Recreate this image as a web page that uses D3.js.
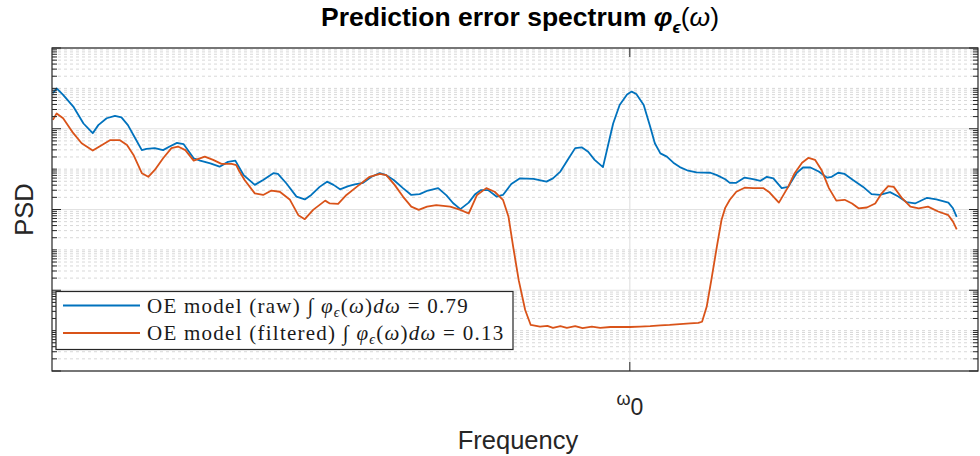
<!DOCTYPE html>
<html>
<head>
<meta charset="utf-8">
<script src="https://cdn.jsdelivr.net/npm/d3@7"></script>
<style>
  html, body { margin: 0; padding: 0; background: #fff; }
  svg { display: block; }
</style>
</head>
<body>
<svg id="chart" width="980" height="456"></svg>
<script>
// Normalised frequency (0..1) and PSD in dB for each prediction error spectrum
const rawFreq = [0.001,0.005,0.012,0.023,0.034,0.044,0.050,0.059,0.068,0.075,0.082,0.090,0.097,0.102,0.111,0.120,0.127,0.135,0.142,0.153,0.160,0.171,0.181,0.190,0.198,0.207,0.219,0.228,0.239,0.244,0.253,0.264,0.273,0.280,0.289,0.297,0.304,0.311,0.320,0.327,0.336,0.345,0.354,0.361,0.369,0.379,0.388,0.397,0.406,0.417,0.426,0.433,0.441,0.450,0.457,0.463,0.471,0.480,0.487,0.496,0.505,0.520,0.534,0.541,0.549,0.558,0.565,0.572,0.579,0.586,0.595,0.601,0.606,0.613,0.621,0.626,0.631,0.639,0.646,0.651,0.657,0.664,0.671,0.678,0.687,0.696,0.711,0.718,0.727,0.732,0.739,0.748,0.757,0.765,0.772,0.779,0.788,0.795,0.804,0.811,0.819,0.828,0.837,0.842,0.849,0.856,0.865,0.876,0.885,0.894,0.905,0.914,0.923,0.932,0.945,0.955,0.968,0.973,0.977];
const rawDb = [-11.2,-10.0,-11.6,-14.5,-18.7,-21.1,-19.1,-17.4,-16.8,-17.2,-19.1,-22.4,-25.3,-25.0,-24.8,-25.3,-24.4,-23.5,-23.8,-27.3,-27.9,-28.6,-29.4,-28.2,-27.9,-31.5,-33.9,-32.7,-31.0,-31.2,-33.5,-36.8,-37.5,-36.4,-34.4,-33.1,-33.9,-35.0,-34.2,-33.8,-33.4,-31.9,-31.0,-31.5,-32.7,-34.7,-36.4,-36.2,-35.3,-34.7,-36.5,-38.4,-39.9,-38.3,-36.2,-35.2,-35.2,-36.8,-36.4,-33.7,-32.3,-32.4,-33.1,-32.3,-30.6,-27.3,-24.8,-24.6,-25.7,-27.7,-29.5,-23.6,-18.7,-14.1,-11.5,-10.8,-11.4,-14.1,-19.5,-23.6,-26.1,-26.9,-28.4,-29.5,-30.4,-30.8,-30.9,-31.5,-32.5,-33.4,-33.4,-32.1,-32.5,-32.9,-31.9,-32.3,-34.7,-34.4,-31.0,-29.6,-29.6,-30.6,-32.1,-31.9,-30.9,-31.2,-32.7,-34.4,-36.2,-36.4,-35.7,-36.8,-38.2,-38.5,-37.1,-37.5,-38.3,-39.7,-41.8];

const filtFreq = [0.001,0.005,0.012,0.023,0.032,0.044,0.054,0.063,0.073,0.081,0.088,0.097,0.104,0.111,0.120,0.129,0.136,0.144,0.153,0.165,0.174,0.183,0.194,0.199,0.202,0.208,0.219,0.228,0.237,0.246,0.257,0.266,0.273,0.282,0.295,0.300,0.309,0.318,0.329,0.343,0.354,0.361,0.370,0.379,0.388,0.396,0.405,0.415,0.430,0.441,0.450,0.459,0.469,0.478,0.487,0.493,0.498,0.504,0.511,0.517,0.527,0.535,0.541,0.549,0.556,0.565,0.573,0.583,0.592,0.603,0.613,0.624,0.635,0.646,0.657,0.667,0.678,0.689,0.698,0.702,0.707,0.712,0.718,0.723,0.727,0.732,0.739,0.748,0.757,0.768,0.775,0.785,0.795,0.802,0.810,0.817,0.824,0.831,0.839,0.847,0.856,0.864,0.871,0.880,0.889,0.896,0.903,0.909,0.918,0.927,0.936,0.946,0.957,0.968,0.973,0.977];
const filtDb = [-17.8,-16.2,-17.4,-21.1,-23.6,-25.4,-24.0,-22.8,-22.8,-24.0,-26.5,-31.0,-31.9,-30.2,-27.3,-24.8,-24.4,-25.3,-27.9,-26.9,-27.7,-28.7,-28.7,-29.0,-30.4,-32.7,-36.0,-36.4,-35.3,-35.6,-37.6,-41.4,-42.4,-40.1,-37.8,-38.5,-38.6,-36.4,-34.4,-31.9,-31.2,-31.5,-33.9,-36.8,-39.3,-40.1,-39.3,-38.9,-39.3,-40.1,-41.0,-36.4,-34.7,-35.6,-37.6,-41.8,-49.2,-57.5,-64.9,-68.6,-69.0,-68.8,-69.3,-68.9,-69.3,-68.9,-69.4,-69.0,-69.3,-69.1,-69.1,-69.1,-69.0,-68.9,-68.7,-68.6,-68.4,-68.2,-68.1,-67.8,-64.1,-57.5,-49.2,-42.6,-39.6,-37.6,-35.6,-34.6,-34.7,-34.7,-35.8,-38.3,-34.4,-31.0,-28.4,-27.2,-27.7,-30.2,-34.7,-37.8,-37.6,-38.5,-39.7,-39.5,-38.5,-36.0,-34.2,-34.4,-37.2,-39.3,-39.7,-39.3,-40.5,-41.4,-43.0,-44.9];

const xTickValues = [0.624];
const xTickLabels = ["ω0"];
const yDomain = [1e-8, 1];
const seriesNames = ["OE model (raw)", "OE model (filtered)"];
const seriesIntegrals = ["0.79", "0.13"];
const seriesColors = ["#0072BD", "#D95319"];

const dbToPsd = d => Math.pow(10, d / 10);
const series = [
  rawFreq.map((f, i) => ({ f, p: dbToPsd(rawDb[i]) })),
  filtFreq.map((f, i) => ({ f, p: dbToPsd(filtDb[i]) }))
];

const svg = d3.select("#chart");
const L = 52, R = 978, T = 48, B = 371;
const axisColor = "#262626";
const sans = "'Liberation Sans', Arial, Helvetica, sans-serif";
const serif = "'Liberation Serif', 'Times New Roman', 'DejaVu Serif', serif";

const x = d3.scaleLinear().domain([0, 1]).range([L, R]);
const y = d3.scaleLog().domain(yDomain).range([B, T]);

// Decade ticks: labelled every second decade, all others minor
const majorY = [], minorY = [];
for (let k = -8; k <= 0; k++) {
  for (let m = 1; m <= 9; m++) {
    const v = m * Math.pow(10, k);
    if (v > 1.0000001) continue;
    if (m === 1 && k % 2 === 0) majorY.push(v); else minorY.push(v);
  }
}

const grid = svg.append("g");
grid.selectAll("line.minor").data(minorY).join("line")
  .attr("x1", L).attr("x2", R)
  .attr("y1", d => y(d)).attr("y2", d => y(d))
  .attr("stroke", "#d8d8d8").attr("stroke-width", 1)
  .attr("stroke-dasharray", "3,3");
grid.selectAll("line.major").data(majorY).join("line")
  .attr("x1", L).attr("x2", R)
  .attr("y1", d => y(d)).attr("y2", d => y(d))
  .attr("stroke", "#e2e2e2").attr("stroke-width", 1.2);
grid.selectAll("line.xg").data(xTickValues).join("line")
  .attr("x1", d => x(d)).attr("x2", d => x(d))
  .attr("y1", T).attr("y2", B)
  .attr("stroke", "#e2e2e2").attr("stroke-width", 1.2);

// Curves
svg.append("clipPath").attr("id", "plotClip")
  .append("rect").attr("x", L).attr("y", T).attr("width", R - L).attr("height", B - T);
const line = d3.line().x(d => x(d.f)).y(d => y(d.p));
svg.append("g").attr("clip-path", "url(#plotClip)")
  .selectAll("path").data(series).join("path")
  .attr("d", line)
  .attr("fill", "none")
  .attr("stroke", (d, i) => seriesColors[i])
  .attr("stroke-width", 1.8)
  .attr("stroke-linejoin", "round");

// Axes box and ticks
const axes = svg.append("g").attr("stroke", axisColor);
axes.append("rect").attr("x", L).attr("y", T).attr("width", R - L).attr("height", B - T)
  .attr("fill", "none").attr("stroke-width", 1.2);
const yTicks = majorY.map(v => ({ v, len: 9 })).concat(minorY.map(v => ({ v, len: 5 })));
axes.selectAll("line.yl").data(yTicks).join("line")
  .attr("x1", L).attr("x2", d => L + d.len)
  .attr("y1", d => y(d.v)).attr("y2", d => y(d.v)).attr("stroke-width", 1);
axes.selectAll("line.yr").data(yTicks).join("line")
  .attr("x1", R).attr("x2", d => R - d.len)
  .attr("y1", d => y(d.v)).attr("y2", d => y(d.v)).attr("stroke-width", 1);
axes.selectAll("line.xb").data(xTickValues).join("line")
  .attr("x1", d => x(d)).attr("x2", d => x(d))
  .attr("y1", B).attr("y2", B - 9).attr("stroke-width", 1);
axes.selectAll("line.xt").data(xTickValues).join("line")
  .attr("x1", d => x(d)).attr("x2", d => x(d))
  .attr("y1", T).attr("y2", T + 9).attr("stroke-width", 1);

// x tick label (ω with subscript 0)
xTickValues.forEach((v, i) => {
  const t = svg.append("text").attr("x", x(v)).attr("y", 405)
    .attr("text-anchor", "middle").attr("fill", axisColor)
    .attr("font-family", sans);
  const lbl = xTickLabels[i];
  t.append("tspan").attr("font-size", 18).text(lbl[0]);
  t.append("tspan").attr("font-size", 23).attr("dy", 10).text(lbl.slice(1));
});

// Axis labels
svg.append("text").attr("x", 518).attr("y", 449)
  .attr("text-anchor", "middle").attr("font-family", sans).attr("font-size", 25.5)
  .attr("fill", axisColor).text("Frequency");
svg.append("text").attr("transform", `translate(33,${(T + B) / 2}) rotate(-90)`)
  .attr("text-anchor", "middle").attr("font-family", sans).attr("font-size", 25.5)
  .attr("fill", axisColor).text("PSD");

// Title
const title = svg.append("text").attr("x", 520).attr("y", 26)
  .attr("text-anchor", "middle").attr("font-family", sans).attr("font-size", 26.5)
  .attr("font-weight", "bold").attr("fill", "#000");
title.append("tspan").text("Prediction error spectrum ");
title.append("tspan").attr("font-style", "italic").text("φ");
title.append("tspan").attr("font-style", "italic").attr("font-size", 17).attr("dy", 7).text("ϵ");
title.append("tspan").attr("dy", -7).attr("font-weight", "normal").text("(");
title.append("tspan").attr("font-style", "italic").attr("font-weight", "normal").text("ω");
title.append("tspan").attr("font-weight", "normal").text(")");

// Legend
const lg = svg.append("g");
lg.append("rect").attr("x", 56).attr("y", 291.5).attr("width", 457).attr("height", 58)
  .attr("fill", "#fff").attr("stroke", axisColor).attr("stroke-width", 1.2);
seriesNames.forEach((name, i) => {
  const cy = 305.5 + i * 27.5;
  lg.append("line").attr("x1", 63).attr("x2", 140).attr("y1", cy).attr("y2", cy)
    .attr("stroke", seriesColors[i]).attr("stroke-width", 1.8);
  const t = lg.append("text").attr("x", 147).attr("y", cy + 7)
    .attr("font-family", serif).attr("font-size", 21).attr("letter-spacing", 1.25)
    .attr("fill", "#1a1a1a");
  t.append("tspan").text(name + " ");
  t.append("tspan").text("∫ ");
  t.append("tspan").attr("font-style", "italic").text("φ");
  t.append("tspan").attr("font-style", "italic").attr("font-size", 14).attr("dy", 4).text("ϵ");
  t.append("tspan").attr("dy", -4).text("(");
  t.append("tspan").attr("font-style", "italic").text("ω");
  t.append("tspan").text(")");
  t.append("tspan").attr("font-style", "italic").text("dω");
  t.append("tspan").text(" = " + seriesIntegrals[i]);
});
</script>
</body>
</html>
